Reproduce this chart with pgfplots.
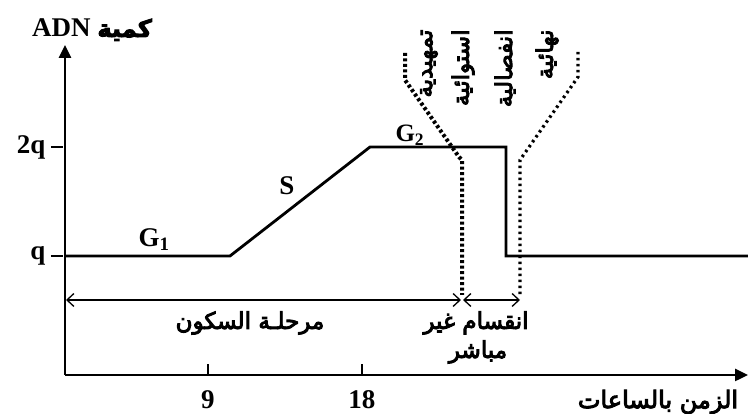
\documentclass[border=0pt]{standalone}
\usepackage{pgfplots}
\pgfplotsset{compat=1.18}
\usepackage{fontspec}
\setmainfont{Liberation Serif}
\newfontfamily\arabicfont[Script=Arabic, FakeBold=4]{DejaVu Sans}
\usetikzlibrary{arrows.meta}
\TeXXeTstate=1
\newcommand{\ar}[1]{{\arabicfont\beginR #1\endR}}
\newcommand{\bigb}{\fontsize{27}{30}\selectfont\bfseries}

\begin{document}
\begin{tikzpicture}
\begin{axis}[
    scale only axis, width=683pt, height=330pt,
    xmin=65, xmax=748, ymin=39, ymax=369,
    axis x line=bottom, axis y line=left,
    axis line style={line width=2.5pt},
    x axis line style={-{Triangle[length=13pt,width=12pt]}},
    y axis line style={-{Triangle[length=13pt,width=12pt]}},
    xtick={208,362}, xticklabels={\textbf{9},\textbf{18}},
    ytick={158,267}, yticklabels={\textbf{q},\textbf{2q}},
    tick align=center, major tick length=12pt,
    xtick style={line width=2pt, yshift=5pt, black},
    ytick style={line width=2.5pt, xshift=-8pt, black},
    xticklabel style={font=\bigb, yshift=-6pt},
    yticklabel style={font=\bigb, xshift=-10pt},
    clip=false,
]
% courbe de la quantite d'ADN
\addplot[line width=2.8pt, black] coordinates {(65,158) (230,158) (370,267) (506,267) (506,158) (748,158)};
% pointilles
\addplot[line width=4pt, dash pattern=on 3pt off 2.5pt, black] coordinates {(405,361) (405,334) (459,257) (462,254) (462,119)};
\addplot[line width=3.2pt, dash pattern=on 2.5pt off 3.5pt, black] coordinates {(578,362) (578,337) (520,254) (520,119)};
% fleches
\addplot[line width=1.3pt, {Straight Barb[length=7pt,width=13pt]}-{Straight Barb[length=7pt,width=13pt]}] coordinates {(66,114) (461,114)};
\addplot[line width=1.3pt, {Straight Barb[length=7pt,width=13pt]}-{Straight Barb[length=7pt,width=13pt]}] coordinates {(463,114) (520,114)};

\node[anchor=base west, font=\bigb] at (axis cs:135,167) {G\textsubscript{1}};
\node[anchor=base, font=\bigb] at (axis cs:287,219) {S};
\node[anchor=base west, font=\fontsize{25}{28}\selectfont\bfseries] at (axis cs:392,272) {G\textsubscript{2}};

\node[anchor=base, font=\bigb] at (axis cs:92,377) {ADN \ar{\fontsize{24}{28}\selectfont كمية}};

\node[font=\fontsize{23}{26}\selectfont] at (axis cs:250,91) {\ar{مرحلـة السكون}};
\node[font=\fontsize{23}{26}\selectfont] at (axis cs:476,91) {\ar{انقسام غير}};
\node[font=\fontsize{23}{26}\selectfont] at (axis cs:478,62) {\ar{مباشر}};
\node[font=\fontsize{24}{28}\selectfont] at (axis cs:658,12) {\ar{الزمن بالساعات}};

\node[rotate=90, anchor=east, font=\fontsize{23}{26}\selectfont] at (axis cs:429,388) {\ar{تمهيدية}};
\node[rotate=90, anchor=east, font=\fontsize{23}{26}\selectfont] at (axis cs:463,388) {\ar{استوائية}};
\node[rotate=90, anchor=east, font=\fontsize{23}{26}\selectfont] at (axis cs:505,388) {\ar{انفصالية}};
\node[rotate=90, anchor=east, font=\fontsize{23}{26}\selectfont] at (axis cs:547,388) {\ar{نهائية}};

\coordinate (BL) at (axis cs:0,0);
\coordinate (TR) at (axis cs:748,414);
\end{axis}
\pgfresetboundingbox
\path[use as bounding box] (BL) rectangle (TR);
\end{tikzpicture}
\end{document}
